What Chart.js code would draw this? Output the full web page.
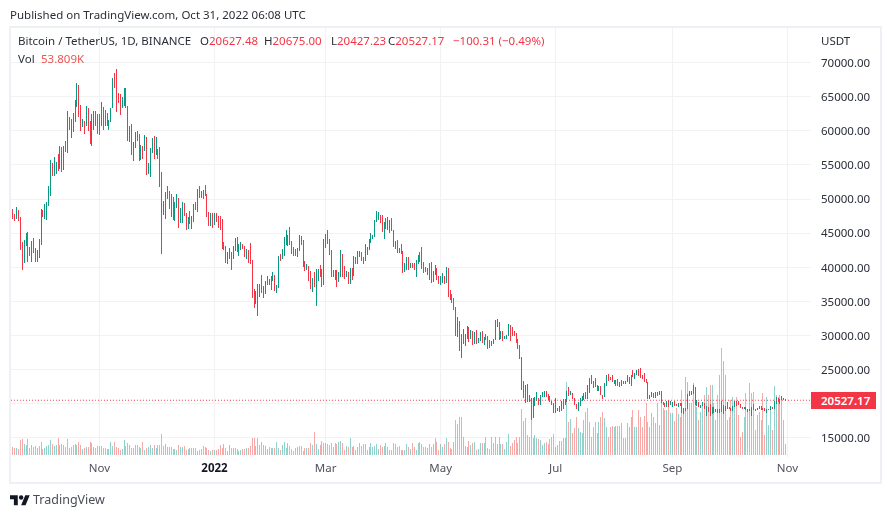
<!DOCTYPE html>
<html><head><meta charset="utf-8">
<script src="https://cdn.jsdelivr.net/npm/chart.js@4"></script>
<style>
html,body{margin:0;padding:0;background:#fff;width:891px;height:518px;overflow:hidden;font-family:"Noto Sans",sans-serif}
#c{position:absolute;left:0;top:0}
.t{position:absolute;white-space:nowrap;font-size:11.5px;line-height:14px;color:#2a2e39}
.r{color:#f23645}
#frame{position:absolute;left:9px;top:26px;width:869px;height:454px;border:2px solid #eff0f5;pointer-events:none}
#tag{position:absolute;left:811px;width:55px;padding-left:10px;height:17px;background:#f23645;color:#fff;font-size:11.5px;font-weight:600;line-height:17px;text-align:left}
#logo{position:absolute;left:10px;top:493px;width:20px;height:15.6px;fill:#131722}
</style></head><body>
<canvas id="c" width="891" height="518"></canvas>
<div id="frame"></div>
<div class="t" style="left:10px;top:8px">Published on TradingView.com, Oct 31, 2022 06:08 UTC</div>
<div class="t" style="left:18px;top:34px">Bitcoin / TetherUS, 1D, BINANCE</div>
<div class="t" style="left:200px;top:34px">O<span class="r">20627.48</span></div>
<div class="t" style="left:264px;top:34px">H<span class="r">20675.00</span></div>
<div class="t" style="left:331px;top:34px">L<span class="r">20427.23</span></div>
<div class="t" style="left:388px;top:34px">C<span class="r">20527.17</span></div>
<div class="t r" style="left:453px;top:34px">−100.31 (−0.49%)</div>
<div class="t" style="left:18px;top:52px">Vol</div>
<div class="t r" style="left:41px;top:52px;color:#ef5350">53.809K</div>
<div class="t" style="left:821px;top:34px">USDT</div>
<div id="tag">20527.17</div>
<svg id="logo" viewBox="0 0 36 28"><path d="M14 22H7V11H0V4h14v18zM28 22h-8l7.5-18h8L28 22z"/><circle cx="20" cy="8" r="4"/></svg>
<div class="t" style="left:33px;top:492px;font-size:12.5px;line-height:16px;color:#4a4e57">TradingView</div>
<script>
// Daily candles, 2021-09-15 .. 2022-10-31 (grouped by month)
const firstOpen = 46990;
const closes = [
48140,47760,47300,48300,47260,43010,40690,43570,44900,42840,42700,43180,42170,41030,41520,43820,
48150,47660,48230,49250,51490,55340,53800,53970,54960,54690,57490,56000,57370,57360,61670,60880,61530,62010,64280,66000,62190,60690,61300,60850,63080,60330,58450,60590,62250,61860,61300,
60900,63230,62930,61400,60970,61530,63300,67550,66950,64880,64810,64150,64400,65500,63600,60060,60370,56900,58060,59700,58700,56290,57560,57170,58960,53730,54720,57270,57800,56950,
57200,56510,53600,49150,49400,50550,50600,50500,47650,47150,49390,50100,46710,48350,48860,47630,46200,46850,46700,46900,48970,48620,50800,50400,50800,50710,50700,47540,46460,47120,46220,
47720,47290,46460,45830,43430,43100,41550,41680,41860,41830,42740,43920,42590,43100,43180,43110,42250,42370,41660,40700,36450,35040,36280,36650,36960,36810,37160,37720,38170,37920,38480,
38740,36950,37300,41570,41410,42410,43850,44050,44400,43510,42390,42210,42050,42540,44550,43880,40500,39950,40010,38350,37010,38240,37250,38330,39210,39110,37700,43190,
44420,43900,42450,39150,39400,38420,37990,38740,41940,39420,38730,38810,37780,39670,39280,41110,40920,41760,42200,41260,41000,42360,42890,43960,44340,44500,46820,47130,47430,47060,45510,
46280,45810,46400,46580,45500,43170,43440,42250,42750,42150,39530,40070,41140,39940,40550,40390,39680,40800,41490,41360,40480,39710,39440,39450,40430,38110,39230,39740,38600,37630,
38470,38520,37730,39700,36550,36010,35470,34040,30080,31020,28950,29050,29280,29830,31300,29830,30430,28700,30310,29200,29450,30300,29100,29650,29550,29200,28620,29020,29450,31730,31800,
29800,30450,29700,29860,29910,31360,31130,30200,30110,29080,28430,26570,22490,22140,22580,20380,20450,19000,20550,20700,20720,19990,21110,21230,21490,21040,20730,20250,20100,18730,
19250,19250,19300,20220,20180,20550,21620,21590,21590,20860,19970,19330,20210,20590,20830,21200,20780,22430,23400,23220,23150,22680,22450,22580,21300,21240,22950,23840,23780,23640,23290,
23300,22980,22820,22620,23310,22950,23170,23810,23150,23950,23930,24400,24440,24300,24100,23850,23340,23190,20830,21140,21520,21400,21530,21370,21560,20240,20040,19550,20280,19800,20050,
20130,19950,19830,20000,19800,18790,19290,19320,21360,21650,21830,22400,20170,20230,19700,19800,20110,19420,19540,18870,18480,19400,19290,18920,18800,19220,19080,19410,19590,19420,
19310,19050,19620,20340,20160,19950,19530,19420,19440,19130,19060,19160,19380,19180,19070,19260,19550,19330,19120,19040,19160,19200,19570,19330,20090,20770,20300,20600,20820,20627.48,20527.17
];
const highs = [
48450,48480,47880,48830,48370,47330,43640,44000,45000,45130,42970,43920,44350,42790,42600,44130,
48500,48350,49230,49500,51900,55750,55340,56100,55500,56560,57830,57680,57790,58500,62900,62000,61720,62600,64490,67000,66640,63730,61750,61500,63700,63300,61500,62480,62960,62930,62400,
62440,64270,63500,63100,62600,61600,63300,67800,68530,69000,65600,65460,65000,66340,66300,63500,60700,60950,58350,59850,60000,59500,57850,57700,59400,59150,55300,57450,58900,59250,
59050,57380,57620,53900,49700,51000,51900,51200,50800,50350,49500,50750,50200,48700,49500,49450,48000,47400,48300,47540,49300,49580,51400,51850,51150,51280,52090,50700,48150,47900,47950,
47950,47990,47570,47500,47070,43750,43150,42300,42790,42250,43100,44300,44500,43450,43780,43480,43180,42650,42580,43500,41100,36830,36500,37550,37550,38900,37230,38000,38720,38350,38740,
39270,38860,37390,41700,41950,42650,44500,45500,44800,45850,43900,43000,42750,42800,44770,44580,44000,40950,40450,40150,39480,38400,39260,39700,39720,40300,39800,44220,
44950,45400,44100,42500,39650,39680,39550,39300,42600,41950,40200,39400,39300,39900,39850,41700,41450,42400,42400,42300,41550,43350,43000,44200,45100,44750,46900,48200,48100,47700,47600,
46700,47200,47400,46900,47200,45500,43900,43950,42800,43400,42400,40700,41550,41500,40700,40700,40600,41100,41750,42200,42950,40800,39980,39930,40600,40800,39450,40350,39900,38800,
38680,39170,38660,40000,39850,36670,36130,35500,34250,32660,32200,30200,31000,30250,31350,31300,30780,30680,30500,30780,29600,30480,30650,29830,30200,29880,29380,29250,29550,32250,32400,
31950,30700,30680,29950,30150,31700,31550,31320,30700,30400,29430,28550,26900,23350,22800,22970,21330,20800,20790,21050,21700,20850,21230,21800,21860,21860,21500,21200,20400,20100,
20870,19430,19640,20350,20730,20650,21830,22500,21950,21590,20860,20000,20230,20850,21200,21600,21700,22800,23800,24280,23420,23750,22700,22650,22650,21370,23100,24200,24400,23980,24200,
23500,23450,23650,23220,23450,23350,23400,24250,23920,24230,24900,24450,24890,25050,25200,24230,24450,23600,23180,21370,21700,21500,21700,21800,21820,21900,20200,20150,20400,20570,20490,
20200,20450,20000,20060,20150,20180,19460,19450,21400,21850,21850,22800,22500,20550,20300,19900,20200,20100,19680,19600,19950,19500,19500,19300,19200,19300,20400,19800,19650,20200,
19480,19400,19720,20480,20370,20450,20050,19600,19550,19530,19270,19220,19510,19950,19220,19360,19700,19700,19350,19350,19250,19260,19700,19600,20410,21020,20880,20750,21080,20930,20675
];
const lows = [
46700,47030,46750,47090,46850,42500,39600,40570,43100,40750,41680,40750,42110,40750,40830,41410,
43300,47440,47120,46900,49000,50400,53370,53400,53650,54100,54400,53900,54250,56900,56800,60150,58950,59850,61320,63480,62000,60000,60490,59500,60660,59900,58000,57820,60170,60650,59500,
59400,60650,60100,60700,60750,60150,61300,63300,66250,62800,64100,62280,63400,63600,63350,58570,58370,56500,55600,57420,58500,55600,55700,55880,57000,53500,53600,53250,56700,55900,
56460,55850,51700,42000,47730,47100,50050,48600,47320,46900,46850,48650,45700,46550,46500,47500,45500,45600,46400,45560,46650,48420,48050,50150,50200,49950,50450,47300,46000,46000,45700,
46200,46650,45700,45500,42650,42500,40600,40500,41200,39650,41260,42450,42300,41700,42580,42700,41540,41250,40570,40550,35500,34000,34600,32920,35700,36230,35500,36150,37350,37350,36630,
38000,36600,36250,37000,40950,41150,41650,43300,43150,43200,41900,41700,41700,41550,42450,43300,40100,39450,39600,38000,36800,36350,37050,34300,38000,38600,37050,37450,
42850,43350,41850,38550,38600,38100,37150,37900,38650,38550,38220,38650,37600,37580,38120,38800,40500,40550,41500,40950,40500,40900,41800,42550,43600,44100,44400,46650,46950,46550,45200,
44200,45650,45500,45100,45350,43000,42750,42100,42100,41900,39200,39250,39550,39570,39950,39950,39550,38550,40550,40800,39750,39200,39300,38900,38200,37700,37900,38900,38200,37580,
37400,37650,37500,37650,35580,35250,34800,33720,30000,29730,27750,26700,28700,28500,29450,29100,29450,28650,28700,28730,28950,29250,28900,28650,29300,28000,28250,28500,28800,29300,31200,
29300,29550,29250,29470,29500,29900,29200,29950,29920,28850,28100,26550,22000,20800,20100,20250,20250,17600,17950,19650,20350,19770,19880,21000,21000,20950,20500,20200,19850,18630,
18960,18980,18750,19000,19300,19770,20250,21200,21300,20650,19850,19250,18900,19620,20370,20500,20700,20750,21600,22900,22300,22500,21950,21950,21250,20700,21000,22600,23420,23500,23220,
22850,22650,22680,22400,22600,22900,22850,23150,22900,22670,23900,23600,24300,24130,23800,23700,23200,23100,20760,20760,21000,20850,20880,21150,21300,20120,19800,19550,19550,19600,19800,
19600,19750,19650,19600,19650,18650,18550,19000,19300,21100,21350,21500,19900,19650,19500,19350,19700,19300,18200,18750,18150,18500,18650,18800,18650,18650,18800,18500,19000,19200,
19180,19020,19000,19580,19730,19850,19330,19320,19320,19030,18860,19000,18200,19080,18970,19070,19240,19100,19060,18900,18650,19100,19100,19250,19230,20050,20200,20000,20550,20500,20427.23
];
// Volume in thousands of BTC
const volumes = [
44,39,34,34,29,73,78,54,49,78,34,49,39,44,34,44,
64,29,34,44,49,73,54,44,49,83,49,54,49,39,78,34,39,49,54,49,64,49,29,34,39,39,64,59,39,34,44,
44,44,34,34,29,29,64,44,64,39,34,25,29,73,44,59,49,34,34,49,49,39,34,64,25,34,39,49,34,49,
34,49,49,103,44,54,39,39,39,29,29,25,49,39,39,44,25,29,34,34,34,34,20,25,29,44,39,34,25,20,25,
25,25,29,49,34,54,34,20,49,34,34,34,29,20,25,29,29,34,34,44,83,83,44,83,49,64,49,44,29,39,34,
34,34,64,34,25,49,64,34,59,44,29,20,34,39,44,44,20,34,34,34,59,49,113,54,29,49,69,59,
59,54,49,59,39,59,54,64,69,59,25,44,39,83,39,44,25,39,59,44,54,54,25,39,59,39,44,54,29,49,39,
44,59,39,25,25,59,54,39,44,25,25,25,54,39,29,59,39,25,59,64,54,39,39,34,54,39,54,83,64,25,
54,39,54,83,64,34,29,64,172,152,186,186,88,44,39,69,49,59,64,25,29,59,59,59,88,34,29,88,59,88,54,
88,54,54,29,64,103,44,59,74,88,59,88,225,167,181,98,88,172,83,98,83,78,74,49,59,64,54,78,88,103,
39,49,69,69,83,83,358,162,176,108,132,186,132,113,108,172,211,230,162,88,137,162,108,162,186,211,181,137,88,137,142,
137,142,142,142,157,83,83,157,137,186,220,137,137,220,186,137,191,255,162,137,206,186,157,255,147,260,230,220,220,240,206,
206,167,230,201,186,318,211,382,358,255,255,353,309,235,172,211,260,294,333,294,343,343,255,172,294,392,524,461,392,172,
186,270,284,260,284,196,88,113,186,304,220,353,304,309,123,196,211,172,304,98,284,147,220,123,338,294,284,294,284,172,53.81
];
const lastPrice = 20527.17;
const priceTicks = [15000,20000,25000,30000,35000,40000,45000,50000,55000,60000,65000,70000];
const startDate = "2021-09-15";
const categoryCount = 425;
const monthTicks = {"2021-11-01":"Nov","2022-01-01":"2022","2022-03-01":"Mar","2022-05-01":"May","2022-07-01":"Jul","2022-09-01":"Sep","2022-11-01":"Nov"};

const labels = [];
for (let i = 0; i < categoryCount; i++) {
  labels.push(new Date(Date.parse(startDate + "T00:00:00Z") + i * 864e5).toISOString().slice(0, 10));
}
const opens = [firstOpen].concat(closes.slice(0, -1));
const UP = "#089981", DOWN = "#f23645", UPV = "rgba(38,166,154,0.5)", DOWNV = "rgba(239,83,80,0.5)";
const GRID = "#f2f2f5";
const isUp = closes.map((c, i) => c >= opens[i]);
const barBase = {grouped:false, barThickness:1, inflateAmount:0, borderWidth:0};

const pixelSnap = {
  id:"pixelSnap",
  afterDatasetsUpdate(chart){
    chart.data.datasets.forEach((d, di) => {
      if (d.type === "line") return;
      chart.getDatasetMeta(di).data.forEach(el => {
        el.x = Math.floor(el.x) + 0.5;
        el.y = Math.round(el.y);
        el.base = Math.round(el.base);
      });
    });
  }
};

const chart = new Chart(document.getElementById("c"), {
  type:"bar",
  plugins:[pixelSnap],
  data:{labels, datasets:[
    {type:"line", label:"Last", data:labels.map(() => lastPrice), yAxisID:"y", order:0, borderColor:DOWN, borderWidth:1, borderDash:[1,2], pointRadius:0, fill:false},
    {...barBase, label:"Low-High", data:highs.map((h, i) => [lows[i], h]), yAxisID:"y", order:2, backgroundColor:isUp.map(u => u ? UP : DOWN)},
    {...barBase, label:"Open-Close", data:closes.map((c, i) => [opens[i], c]), yAxisID:"y", order:1, backgroundColor:isUp.map(u => u ? UP : DOWN)},
    {...barBase, label:"Vol", data:volumes, yAxisID:"v", order:3, backgroundColor:isUp.map(u => u ? UPV : DOWNV)}
  ]},
  options:{
    responsive:false, animation:false, devicePixelRatio:1,
    layout:{padding:{left:10, top:28, right:10, bottom:35}},
    plugins:{legend:{display:false}, tooltip:{enabled:false}, title:{display:false}},
    scales:{
      x:{
        type:"category", offset:true,
        grid:{color:GRID, offset:false, drawTicks:false},
        border:{display:false},
        afterBuildTicks(a){ a.ticks = a.ticks.filter(t => monthTicks[labels[t.value]]); },
        afterFit(a){ a.height = 25; },
        ticks:{
          autoSkip:false, maxRotation:0, padding:4, color:c => c.tick && c.tick.label === "2022" ? "#131722" : "#50535e",
          font:c => ({family:"'Noto Sans'", size:11.5, weight:c.tick && c.tick.label === "2022" ? "bold" : "normal"}),
          callback(v){ return monthTicks[labels[v]] || ""; }
        }
      },
      y:{
        position:"right", min:12070, max:75056,
        grid:{color:GRID, drawTicks:false},
        border:{display:false},
        afterBuildTicks(a){ a.ticks = priceTicks.map(value => ({value})); },
        afterFit(a){ a.width = 70; },
        ticks:{
          padding:10, crossAlign:"near", labelOffset:1, color:"#2a2e39", font:{family:"'Noto Sans'", size:11.5},
          callback(v){ return v === 20000 ? "" : v.toFixed(2); }
        }
      },
      v:{display:false, min:-15, max:2092}
    }
  }
});
const tag = document.getElementById("tag");
tag.style.top = (chart.scales.y.getPixelForValue(lastPrice) - 8.5) + "px";
</script>
</body></html>
